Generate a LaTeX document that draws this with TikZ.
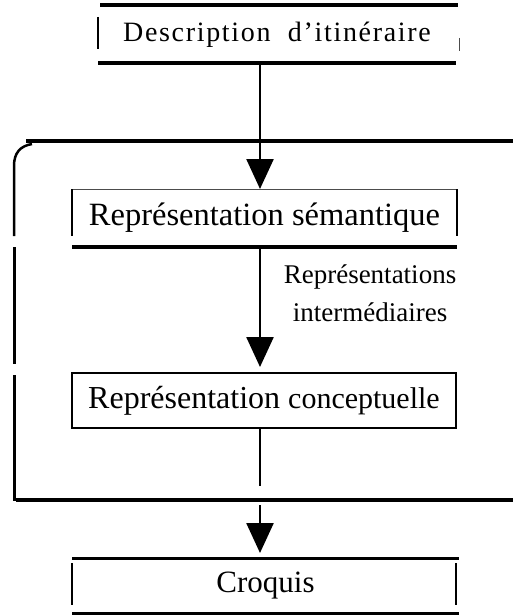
\documentclass[tikz,border=0pt]{standalone}
\usepackage{fontspec}
\setmainfont{Liberation Serif}
\newfontfamily\descfont[LetterSpace=6]{Liberation Serif}
\usetikzlibrary{arrows.meta}
\begin{document}
\begin{tikzpicture}[x=1pt,y=-1pt,
  boxnode/.style={inner sep=0pt,outer sep=0pt,draw=none,anchor=center},
  heavy/.style={line width=3.5pt},
  light/.style={line width=1.5pt},
  hair/.style={line width=1pt,black!70},
  conn/.style={line width=2.5pt,-{Triangle[length=30pt,width=27pt]}},
  frameline/.style={line width=3pt}]
\useasboundingbox (0,0) rectangle (513,615);
% boxes
\node[boxnode,minimum width=358pt,minimum height=57pt] (desc) at (277,34.5)
  {\descfont\fontsize{28}{30}\selectfont Description\ \ d’itinéraire};
\node[boxnode,minimum width=385pt,minimum height=58pt] (sem) at (264.5,218)
  {\fontsize{32.5}{38}\selectfont Représentation sémantique};
\node[boxnode,minimum width=384pt,minimum height=55pt] (conc) at (264,400.5)
  {\fontsize{32}{36}\selectfont Représentation\ \fontsize{30}{36}\selectfont conceptuelle};
\node[boxnode,minimum width=387pt,minimum height=55pt] (croq) at (265.5,585.5)
  {\fontsize{31}{34}\selectfont Croquis};
\node[inner sep=0pt,align=center,font=\fontsize{27}{38}\selectfont] (lab) at (370,293)
  {Représentations\\intermédiaires};
% description box borders
\draw[heavy] (100,5) -- (458,5);
\draw[heavy] (desc.south west) -- (desc.south east);
\draw[light] ([yshift=-11pt]desc.north west) -- ([yshift=14pt]desc.south west);
\draw[hair] ([xshift=3pt,yshift=-32pt]desc.north east) -- ([xshift=3pt,yshift=12pt]desc.south east);
% semantic box borders
\draw[hair] (sem.north west) -- (sem.north east);
\draw[light] (sem.north west) -- ([yshift=11pt]sem.south west);
\draw[light] (sem.north east) -- ([yshift=11pt]sem.south east);
\draw[heavy] (sem.south west) -- (sem.south east);
% conceptual box
\draw[line width=2pt] (conc.north west) rectangle (conc.south east);
% croquis box borders
\draw[frameline] (croq.north west) -- (croq.north east);
\draw[frameline] (croq.south west) -- (croq.south east);
\draw[light] ([yshift=-5pt]croq.north west) -- ([yshift=8pt]croq.south west);
\draw[line width=2pt] ([xshift=-3pt,yshift=-5pt]croq.north east) -- ([xshift=-3pt,yshift=8pt]croq.south east);
% outer container
\draw[heavy] (26,141) -- (513,141);
\draw[line width=2.5pt] (32,144) .. controls (20,146) and (14,153) .. (14,166) -- (14,236);
\draw[frameline] (14,247) -- (14,364);
\draw[frameline] (14,375) -- (14,501);
\draw[heavy] (16,500) -- (513,500);
% connectors
\coordinate (ax) at (260,0);
\coordinate (g1) at (260,486);
\coordinate (g2) at (260,505);
\draw[conn] (desc.south -| ax) -- (sem.north -| ax);
\draw[conn,shorten >=6pt] (sem.south -| ax) -- (conc.north -| ax);
\draw[line width=2.5pt] (conc.south -| ax) -- (g1);
\draw[conn,shorten >=5pt] (g2) -- (croq.north -| ax);
\end{tikzpicture}
\end{document}
